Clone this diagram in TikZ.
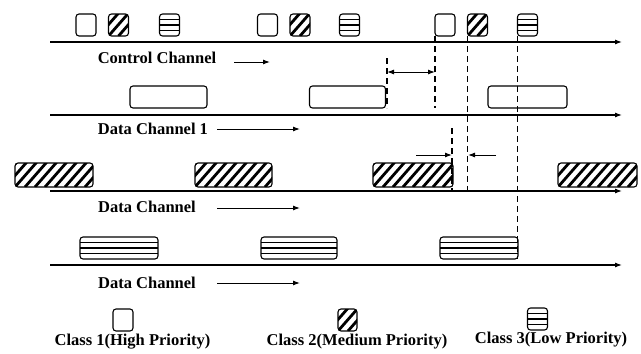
\documentclass[tikz,border=0pt]{standalone}
\usepackage{fontspec}
\setmainfont{Liberation Serif}
\usetikzlibrary{arrows.meta}
\begin{document}
\begin{tikzpicture}[x=1pt,y=-1pt,
  base/.style={draw, line width=1.1pt, rounded corners=3pt, inner sep=0pt, outer sep=0pt},
  sq/.style={base, minimum width=20pt, minimum height=22pt},
  long/.style={base, minimum width=78pt, minimum height=22pt},
  hatch/.style={path picture={\foreach \i in {-4,...,10}{\draw[line width=2.8pt] ([xshift=\i*10pt]path picture bounding box.south west) -- ++(28pt,32pt);}}},
  stripes/.style={path picture={\foreach \f in {5.5,11,16.5}{\draw[line width=1.1pt] ([yshift=\f pt]path picture bounding box.south west) -- ([yshift=\f pt]path picture bounding box.south east);}}},
  axis/.style={line width=1.1pt, -{Latex[length=7pt,width=5pt]}},
  lbl/.style={font=\fontsize{16.5}{18}\selectfont\bfseries, inner sep=0pt},
  garrow/.style={line width=1pt, -{Latex[length=7pt,width=5pt]}},
  dsh/.style={line width=1.2pt, dash pattern=on 6pt off 4pt},
  darr/.style={line width=1pt, {Latex[length=7pt,width=5pt]}-{Latex[length=7pt,width=5pt]}}
]
\useasboundingbox (0,0) rectangle (641,354);
% axes
\coordinate (a0) at (50,42);  \coordinate (a1) at (622,42);
\coordinate (b0) at (50,115); \coordinate (b1) at (622,115);
\coordinate (h0) at (50,191); \coordinate (h1) at (622,191);
\coordinate (s0) at (50,265); \coordinate (s1) at (622,265);
\draw[axis] (a0) -- (a1);
\draw[axis] (b0) -- (b1);
\draw[axis] (h0) -- (h1);
\draw[axis] (s0) -- (s1);
% control channel packets
\node[sq] (c1a) at (86,25) {};
\node[sq,hatch] (c2a) at (118.5,25) {};
\node[sq,stripes] (c3a) at (169.5,25) {};
\node[sq] (c1b) at (267.5,25) {};
\node[sq,hatch] (c2b) at (300,25) {};
\node[sq,stripes] (c3b) at (349.5,25) {};
\node[sq] (c1c) at (445,25) {};
\node[sq,hatch] (c2c) at (477.5,25) {};
\node[sq,stripes] (c3c) at (527.5,25) {};
% data channel 1 (plain)
\node[long,minimum width=77pt] (d1a) at (168.5,97) {};
\node[long,minimum width=76pt] (d1b) at (347.5,97) {};
\node[long,minimum width=79pt] (d1c) at (527.5,97) {};
% hatched data channel
\node[long,hatch,minimum width=78pt,minimum height=24pt] (ha) at (54,175) {};
\node[long,hatch,minimum width=77pt,minimum height=24pt] (hb) at (233.5,175) {};
\node[long,hatch,minimum width=80pt,minimum height=24pt] (hc) at (413,175) {};
\node[long,hatch,minimum width=79pt,minimum height=24pt] (hd) at (597.5,175) {};
% striped data channel
\node[long,stripes] (sa) at (119,248) {};
\node[long,stripes,minimum width=76pt] (sb) at (299,248) {};
\node[long,stripes] (sc) at (479,248) {};
% labels
\node[lbl] (lc) at (157,58) {Control Channel};
\coordinate (lca0) at (234,62); \coordinate (lca1) at (270,62);
\draw[garrow] (lca0) -- (lca1);
\node[lbl] (ld1) at (153,129) {Data Channel 1};
\coordinate (ld1a0) at (217,129); \coordinate (ld1a1) at (300,129);
\draw[garrow] (ld1a0) -- (ld1a1);
\node[lbl] (ld2) at (147,207) {Data Channel};
\coordinate (ld2a0) at (217,208); \coordinate (ld2a1) at (300,208);
\draw[garrow] (ld2a0) -- (ld2a1);
\node[lbl] (ld3) at (147,283) {Data Channel};
\coordinate (ld3a0) at (217,283); \coordinate (ld3a1) at (300,283);
\draw[garrow] (ld3a0) -- (ld3a1);
% dashed markers
\coordinate (t1) at (387,58);
\draw[dsh] (t1) -- (t1 |- d1b.south);
\draw[dsh] (c1c.south west) -- (c1c.south west |- d1b.south);
\draw[dsh] (c2c.south west) -- (c2c.south west |- h0);
\draw[dsh] (c3c.south west) -- (c3c.south west |- sc.south);
\coordinate (t2) at (452,128);
\draw[dsh] (t2) -- (t2 |- h0);
\coordinate (u1) at (387,72);
\draw[darr] (u1) -- (u1 -| c1c.south west);
\coordinate (v1) at (416,155); \coordinate (v2) at (452,155);
\coordinate (w1) at (496,155); \coordinate (w2) at (468,155);
\draw[garrow] (v1) -- (v2);
\draw[garrow] (w1) -- (w2);
% legend
\node[sq] (k1) at (123,320) {};
\node[sq,hatch,minimum width=19pt] (k2) at (347.5,320) {};
\node[sq,stripes] (k3) at (537.5,319) {};
\node[lbl] (kl1) at (132.5,342) {Class 1(High Priority)};
\node[lbl] (kl2) at (357,342) {Class 2(Medium Priority)};
\node[lbl] (kl3) at (551,340) {Class 3(Low Priority)};
\end{tikzpicture}
\end{document}
